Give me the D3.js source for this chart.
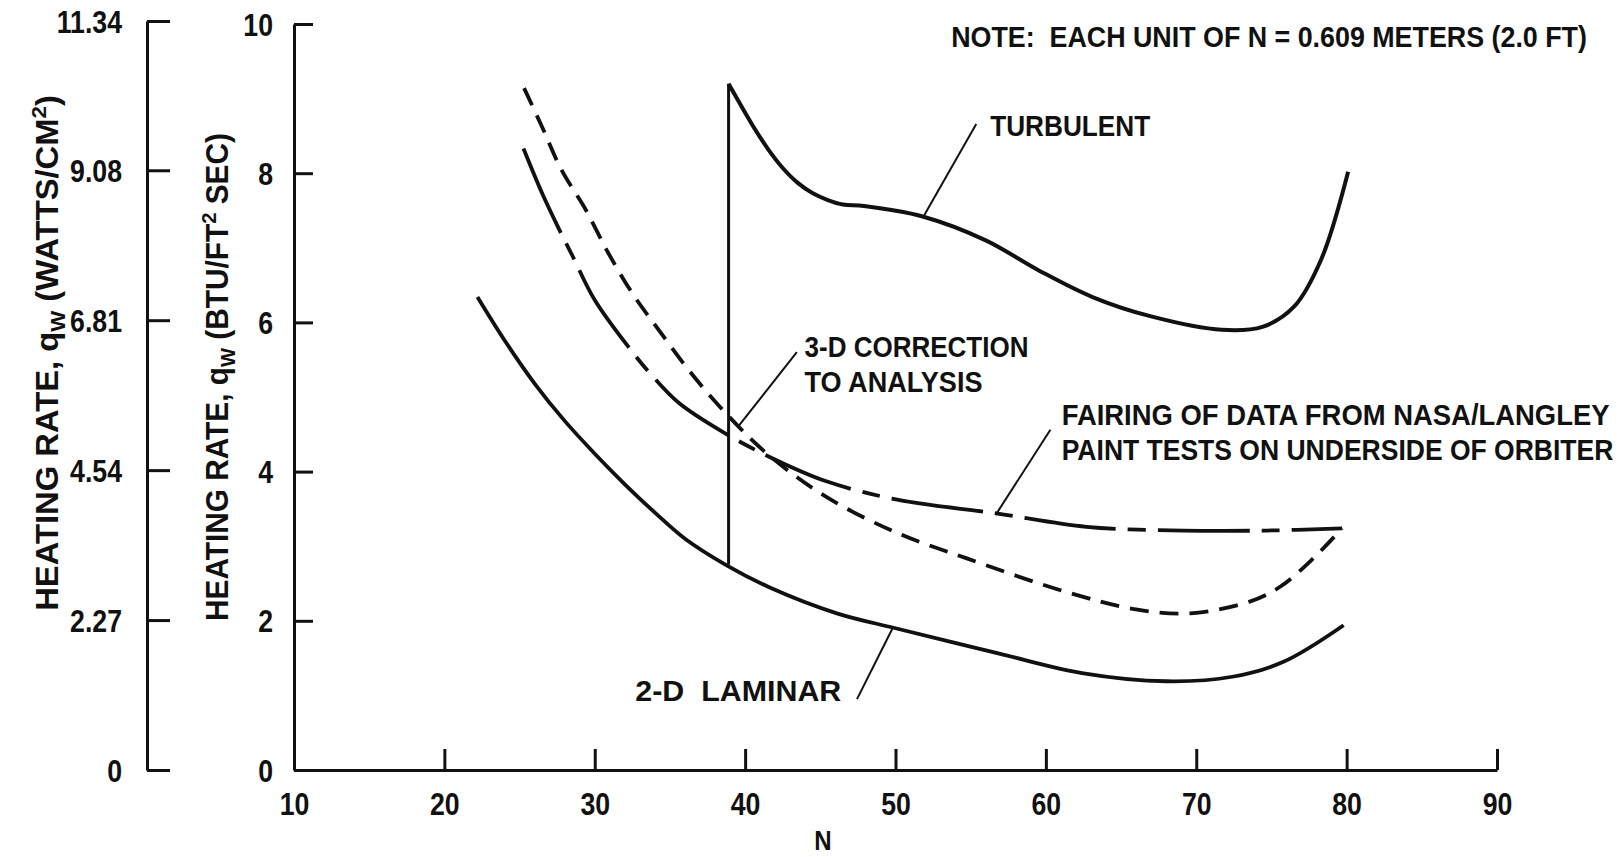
<!DOCTYPE html>
<html>
<head>
<meta charset="utf-8">
<script src="https://cdn.jsdelivr.net/npm/d3@7"></script>
<style>
  body { margin: 0; background: #fff; }
  svg text { font-family: "Liberation Sans", Arial, sans-serif; font-weight: bold; fill: #111; white-space: pre; }
</style>
</head>
<body>
<svg id="chart" width="1624" height="857"></svg>
<script>
'use strict';

// x ticks (N) and the two y scales
var nTicks = [10, 20, 30, 40, 50, 60, 70, 80, 90];
var btuTicks = [0, 2, 4, 6, 8, 10];
var wattTicks = [0, 2.27, 4.54, 6.81, 9.08, 11.34];

// turbulent curve, starts at the transition peak
var turbN = [38.9, 39.6, 40.5, 41.5, 42.5, 43.5, 44.5, 45.5, 46.5, 47.9, 51.8, 56.0, 59.5, 63.1, 67.0, 71.7, 74.4, 76.5, 78.3, 80.1];
var turbQ = [9.20, 8.95, 8.64, 8.33, 8.07, 7.87, 7.73, 7.64, 7.58, 7.56, 7.42, 7.10, 6.70, 6.34, 6.08, 5.90, 5.94, 6.21, 6.84, 8.02];

// vertical transition laminar -> turbulent
var transN = [38.9, 38.9];
var transQ = [2.75, 9.20];

// 2-D laminar
var lamN = [22.2, 24, 26, 28, 30, 32, 34, 36, 38.8, 41.6, 46.1, 50.0, 56.9, 62.4, 68.0, 72.4, 75.8, 79.8];
var lamQ = [6.34, 5.76, 5.18, 4.68, 4.24, 3.83, 3.45, 3.10, 2.74, 2.45, 2.10, 1.90, 1.56, 1.30, 1.19, 1.25, 1.45, 1.94];

// 3-D correction to analysis (short dashes)
var corrN = [25.3, 26.5, 27.8, 29.4, 30.9, 32.5, 34.25, 36.25, 38.5, 41.4, 45.4, 50.2, 54.7, 61.3, 66.1, 69.6, 73.6, 75.6, 77.8, 79.7];
var corrQ = [9.14, 8.62, 8.04, 7.51, 6.93, 6.39, 5.90, 5.36, 4.83, 4.25, 3.66, 3.17, 2.84, 2.39, 2.15, 2.10, 2.26, 2.46, 2.84, 3.24];

// fairing of NASA/Langley paint test data (long dashes)
var fairN = [25.26, 26.5, 27.6, 28.5, 30.0, 32.4, 33.8, 35.6, 38.7, 41.8, 45.4, 50.2, 56.7, 62.7, 69.1, 74.7, 79.7];
var fairQ = [8.33, 7.73, 7.26, 6.90, 6.30, 5.63, 5.29, 4.92, 4.51, 4.18, 3.87, 3.62, 3.44, 3.26, 3.21, 3.21, 3.24];

var svg = d3.select('#chart');

var x = d3.scaleLinear().domain([10, 90]).range([294, 1497]);
var y = d3.scaleLinear().domain([0, 10]).range([770, 24]);
var yW = d3.scaleLinear().domain([0, 11.34]).range([770, 21]);

function pts(ns, qs) {
  return ns.map(function(n, i) { return [n, qs[i]]; });
}

var smooth = d3.line()
  .x(function(d) { return x(d[0]); })
  .y(function(d) { return y(d[1]); })
  .curve(d3.curveCatmullRom.alpha(0.5));

var straight = d3.line()
  .x(function(d) { return x(d[0]); })
  .y(function(d) { return y(d[1]); });

// squeeze a plain text to a width (condensed look of the original lettering)
function squeeze(sel, factor) {
  sel.each(function() {
    var w = this.getComputedTextLength();
    d3.select(this).attr('textLength', w * factor).attr('lengthAdjust', 'spacingAndGlyphs');
  });
}

// axes
var xAxis = svg.append('g')
  .attr('transform', 'translate(0,770)')
  .call(d3.axisBottom(x).tickValues(nTicks).tickSizeInner(-21).tickSizeOuter(0).tickPadding(23));

var yAxis = svg.append('g')
  .attr('transform', 'translate(294,0)')
  .call(d3.axisLeft(y).tickValues(btuTicks).tickSizeInner(-19).tickSizeOuter(0).tickPadding(21));

var wAxis = svg.append('g')
  .attr('transform', 'translate(147,0)')
  .call(d3.axisLeft(yW).tickValues(wattTicks).tickSizeInner(-23).tickSizeOuter(0).tickPadding(25)
    .tickFormat(function(d) { return d === 0 ? '0' : d3.format('.2f')(d); }));

[xAxis, yAxis, wAxis].forEach(function(g) {
  g.select('.domain').attr('stroke', '#111').attr('stroke-width', 3);
  g.selectAll('.tick line').attr('stroke', '#111').attr('stroke-width', 3);
  g.selectAll('.tick text')
    .attr('fill', '#111')
    .style('font-size', '31px')
    .style('font-family', null);
});
yAxis.selectAll('.tick text').attr('dy', '0.36em');
wAxis.selectAll('.tick text').attr('dy', '0.36em');
[xAxis, yAxis, wAxis].forEach(function(g) { squeeze(g.selectAll('.tick text'), 0.86); });

// curves
svg.append('path')
  .attr('d', smooth(pts(lamN, lamQ)))
  .attr('fill', 'none').attr('stroke', '#111').attr('stroke-width', 3.8);

svg.append('path')
  .attr('d', straight(pts(transN, transQ)))
  .attr('fill', 'none').attr('stroke', '#111').attr('stroke-width', 3);

svg.append('path')
  .attr('d', smooth(pts(turbN, turbQ)))
  .attr('fill', 'none').attr('stroke', '#111').attr('stroke-width', 4)
  .attr('stroke-linejoin', 'round');

svg.append('path')
  .attr('d', smooth(pts(corrN, corrQ)))
  .attr('fill', 'none').attr('stroke', '#111').attr('stroke-width', 3.8)
  .attr('stroke-dasharray', '19,11');

svg.append('path')
  .attr('d', smooth(pts(fairN, fairQ)))
  .attr('fill', 'none').attr('stroke', '#111').attr('stroke-width', 3.8)
  .attr('stroke-dasharray', '92,12,18,12');

// leader lines
var leaders = [
  [[55.37, 8.66], [51.92, 7.44]],
  [[43.44, 5.60], [39.52, 4.60]],
  [[60.3, 4.56], [56.66, 3.42]],
  [[47.44, 0.95], [49.78, 1.89]]
];
leaders.forEach(function(l) {
  svg.append('path')
    .attr('d', straight(l))
    .attr('fill', 'none').attr('stroke', '#111').attr('stroke-width', 2);
});

// annotation texts, w = width of the lettering in the original
var notes = [
  {t: 'TURBULENT', n: 56.3, q: 8.50, w: 160},
  {t: '3-D CORRECTION', n: 43.95, q: 5.54, w: 224},
  {t: 'TO ANALYSIS', n: 43.95, q: 5.07, w: 178},
  {t: 'FAIRING OF DATA FROM NASA/LANGLEY', n: 61.05, q: 4.62, w: 548},
  {t: 'PAINT TESTS ON UNDERSIDE OF ORBITER', n: 61.05, q: 4.15, w: 552},
  {t: '2-D  LAMINAR', n: 32.7, q: 0.92, w: 206},
  {t: 'NOTE:  EACH UNIT OF N = 0.609 METERS (2.0 FT)', n: 53.7, q: 9.69, w: 636}
];
svg.selectAll('text.note')
  .data(notes)
  .enter().append('text')
  .attr('class', 'note')
  .style('font-size', '30px')
  .text(function(d) { return d.t; })
  .attr('transform', function(d) {
    var s = d.w / this.getComputedTextLength();
    return 'translate(' + x(d.n) + ',' + y(d.q) + ') scale(' + s + ',1)';
  });

// axis titles
svg.append('text')
  .attr('text-anchor', 'middle')
  .attr('transform', 'translate(823,850) scale(0.86,1)')
  .style('font-size', '28px')
  .text('N');

function yTitle(cx, cy, len, unitA, unitB) {
  var g = svg.append('g');
  var t = g.append('text')
    .attr('text-anchor', 'middle')
    .style('font-size', '31px');
  t.append('tspan').text('HEATING RATE, q');
  t.append('tspan').attr('dy', 7).style('font-size', '21px').text('W');
  t.append('tspan').attr('dy', -7).text(' (' + unitA);
  t.append('tspan').attr('dy', -12).style('font-size', '21px').text('2');
  t.append('tspan').attr('dy', 12).text(unitB);
  var w = t.node().getBBox().width;
  g.attr('transform', 'translate(' + cx + ',' + cy + ') rotate(-90) scale(' + (len / w) + ',1)');
}
yTitle(58, 353, 516, 'WATTS/CM', ')');
yTitle(228, 377, 488, 'BTU/FT', ' SEC)');
</script>
</body>
</html>
